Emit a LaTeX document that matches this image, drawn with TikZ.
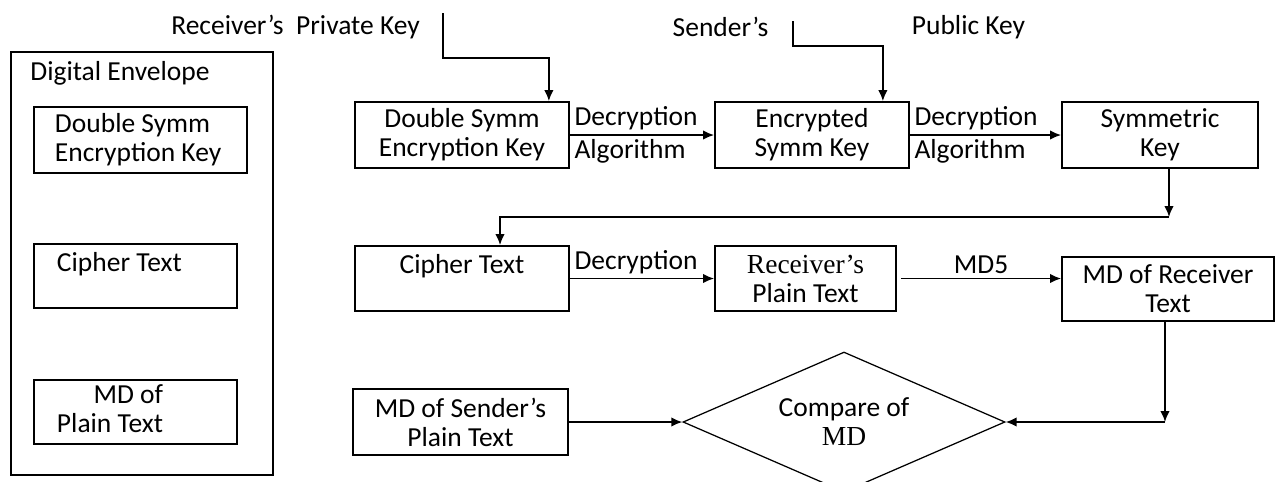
\documentclass[tikz,border=0pt]{standalone}
\usepackage{fontspec}
\setmainfont{Carlito}
\newfontfamily\timesfont{Liberation Serif}
\usetikzlibrary{positioning, arrows.meta}
\usetikzlibrary{shapes}

\newcommand\boxfont{\fontsize{11}{11.6}\selectfont}

\tikzset{
	box/.style={draw, align=center, inner sep=1pt},
	envbox/.style={draw, align=flush left, inner ysep=1pt},
	lbl/.style={inner sep=1.5pt},
}

\begin{document}
\begin{tikzpicture}[x=0.4pt, y=-0.4pt, line width=0.7pt, font=\boxfont,
		>={Latex[length=4.4pt,width=3.8pt]}]
		\useasboundingbox (0,0) rectangle (1277,481);

		% digital envelope
		\node[draw, minimum width=104.8pt, minimum height=169.2pt] (env) at (142,263.5) {};
		\node (envtitle) at (120,73) {Digital Envelope};
		\node[envbox, text width=68.4pt, inner xsep=8.4pt, minimum height=26.4pt] (envkey) at (140.5,140) {Double Symm\\Encryption Key};
		\node[envbox, text width=62.8pt, inner xsep=9.2pt, minimum height=25.6pt] (envcipher) at (135.5,276) {Cipher Text\\\mbox{}};
		\node[envbox, text width=62.8pt, inner xsep=9.2pt, minimum height=25.6pt] (envmd) at (135.5,412) {\begin{tabular}{@{}r@{}}MD of\\Plain Text\end{tabular}};

		% keys on top
		\node (rpk) at (295.5,27) {Receiver’s\ \ Private Key};
		\node (snd) at (720.5,27) {Sender’s};
		\node (pub) at (968.5,27) {Public Key};
		\coordinate (rpkin) at (443,13);
		\coordinate (sndin) at (793,21);

		% first row
		\node[box, minimum width=85.6pt, minimum height=26.4pt] (dsek) at (462,135) {Double Symm\\Encryption Key};
		\node[box, minimum width=77.6pt, minimum height=26.4pt] (esk) at (812,135) {Encrypted\\Symm Key};
		\node[box, minimum width=78.4pt, minimum height=26.4pt] (symk) at (1160,135) {Symmetric\\Key};
		\coordinate (symkout) at (1169,217);

		% second row
		\node[box, minimum width=85.6pt, minimum height=26pt] (ciph) at (462,278.5) {Cipher Text\\\mbox{}};
		\node[box, minimum width=72.4pt, minimum height=26pt] (rpt) at (805.5,278.5) {{\timesfont Receiver’s}\\Plain Text};
		\node[box, minimum width=84.8pt, minimum height=25.6pt] (mdr) at (1168,289) {MD of Receiver\\Text};

		% third row
		\node[box, minimum width=86pt, minimum height=26.4pt] (mds) at (460.5,422) {MD of Sender’s\\Plain Text};
		\node[draw, diamond, shape aspect=2.3, line width=0.5pt, minimum width=128.8pt, minimum height=56pt, inner sep=0pt, align=center] (cmp) at (844,422) {Compare of\\{\timesfont MD}};
		\coordinate (mdrout) at (1165,422);

		\draw[->] (rpkin) -- ++(0,45) -| ([xshift=-8.4pt]dsek.north east);
		\draw[->] (sndin) -- ++(0,25) -| ([xshift=-10.8pt]esk.north east);
		\draw[->] (dsek) -- (esk) node[lbl, pos=0, anchor=south west] {Decryption} node[lbl, pos=0, anchor=north west] {Algorithm};
		\draw[->] (esk) -- (symk) node[lbl, pos=0, anchor=south west] {Decryption} node[lbl, pos=0, anchor=north west] {Algorithm};
		\draw[->] (symk.south -| symkout) -- (symkout);
		\draw[->] (symkout) -| ([xshift=15.2pt]ciph.north);
		\draw[->] (ciph) -- (rpt) node[lbl, pos=0, anchor=south west] {Decryption};
		\draw[->] ([xshift=1.6pt]rpt.east) -- (rpt.east -| mdr.west) node[lbl, midway, above] {MD5};
		\draw[->] (mdr.south -| mdrout) -- (mdrout);
		\draw[->] (mdrout) -- (cmp.east);
		\draw[->] (mds) -- (cmp);
	\end{tikzpicture}
\end{document}
